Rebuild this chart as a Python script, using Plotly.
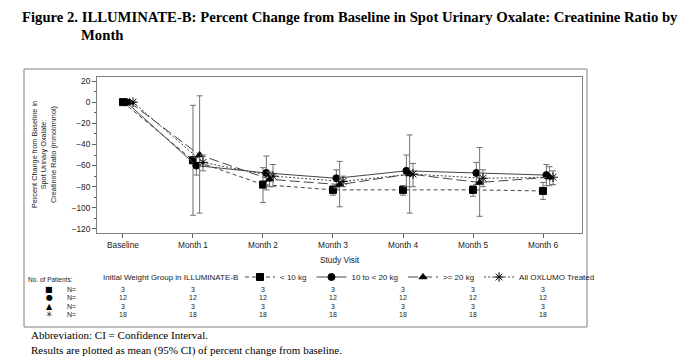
import plotly.graph_objects as go

# ---------------- data ----------------
visits = ["Baseline", "Month 1", "Month 2", "Month 3", "Month 4", "Month 5", "Month 6"]
group_names = ["< 10 kg", "10 to < 20 kg", ">= 20 kg", "All OXLUMO Treated"]

mean_lt10 = [0, -55, -78, -83, -83, -83, -84]
lo_lt10 = [None, -107, -95, -88, -88, -89, -92]
hi_lt10 = [None, -3, -62, -79, -79, -79, -76]

mean_10_20 = [0, -60, -67, -72, -65, -67, -69]
lo_10_20 = [None, -69, -83, -81, -80, -78, -79]
hi_10_20 = [None, -52, -51, -64, -50, -57, -59]

mean_ge20 = [0, -50, -73, -78, -68, -76, -71]
lo_ge20 = [None, -105, -80, -99, -105, -108, -79]
hi_ge20 = [None, 6, -66, -56, -31, -43, -61]

mean_all = [0, -57, -70, -75, -68, -72, -71]
lo_all = [None, -65, -80, -80, -80, -80, -78]
hi_all = [None, -50, -59, -70, -58, -64, -65]

n_lt10 = [3, 3, 3, 3, 3, 3, 3]
n_10_20 = [12, 12, 12, 12, 12, 12, 12]
n_ge20 = [3, 3, 3, 3, 3, 3, 3]
n_all = [18, 18, 18, 18, 18, 18, 18]

# ---------------- layout geometry (page pixels) ----------------
OFF = 8  # default page body margin
W, H = 692 - OFF, 358 - OFF
PL, PR, PT, PB = 97, 582, 77, 233   # plot area in page pixels
PW, PH = PR - PL, PB - PT


def px(xp):
    return (xp - PL) / PW


def py(yp):
    return (PB - yp) / PH


offsets = [0.0, 0.048, 0.095, 0.143]
symbols = ["square", "circle", "triangle-up", "asterisk-open"]
sizes = [7, 7, 7, 8]
dashes = ["4px,3px", "solid", "10px,4px", "2px,2px"]
means = [mean_lt10, mean_10_20, mean_ge20, mean_all]
los = [lo_lt10, lo_10_20, lo_ge20, lo_all]
his = [hi_lt10, hi_10_20, hi_ge20, hi_all]

fig = go.Figure()
for g in range(4):
    xs = [i + offsets[g] for i in range(len(visits))]
    m = means[g]
    plus = [None if h is None else h - v for h, v in zip(his[g], m)]
    minus = [None if l is None else v - l for l, v in zip(los[g], m)]
    fig.add_trace(go.Scatter(
        x=xs, y=m, mode="lines+markers", name=group_names[g],
        line=dict(color="#454545", width=1, dash=dashes[g]),
        marker=dict(symbol=symbols[g], size=sizes[g], color="black",
                    line=dict(color="black", width=1)),
        error_y=dict(type="data", symmetric=False, array=plus, arrayminus=minus,
                     color="#707070", thickness=1, width=3),
        hoverinfo="skip",
    ))

annotations = []
# Title
annotations.append(dict(xref="paper", yref="paper", x=px(20), y=py(17), xanchor="left", yanchor="middle",
                        text="<b>Figure 2. ILLUMINATE-B: Percent Change from Baseline in Spot Urinary Oxalate: Creatinine Ratio by</b>",
                        showarrow=False, font=dict(family="Liberation Serif", size=14.7, color="black")))
annotations.append(dict(xref="paper", yref="paper", x=px(79), y=py(35), xanchor="left", yanchor="middle",
                        text="<b>Month</b>", showarrow=False,
                        font=dict(family="Liberation Serif", size=14.7, color="black")))
# Y axis title
annotations.append(dict(xref="paper", yref="paper", x=px(44), y=0.5, xanchor="center", yanchor="middle",
                        textangle=-90, showarrow=False,
                        text="Percent Change from Baseline in<br>Spot Urinary Oxalate:<br>Creatinine Ratio (mmol/mmol)",
                        font=dict(family="Liberation Sans", size=7.3, color="#222")))
# X axis title
annotations.append(dict(xref="paper", yref="paper", x=0.5, y=py(260), xanchor="center", yanchor="middle",
                        text="Study Visit", showarrow=False,
                        font=dict(family="Liberation Sans", size=8.3, color="#222")))
# Legend title
annotations.append(dict(xref="paper", yref="paper", x=px(101), y=py(277), xanchor="left", yanchor="middle",
                        text="Initial Weight Group in ILLUMINATE-B", showarrow=False,
                        font=dict(family="Liberation Sans", size=8, color="#222")))
# N table
annotations.append(dict(xref="paper", yref="paper", x=px(26), y=py(279), xanchor="left", yanchor="middle",
                        text="No. of Patients:", showarrow=False,
                        font=dict(family="Liberation Sans", size=6.5, color="#222")))
row_y = [289, 297.5, 306, 314.5]
row_sym = ["■", "●", "▲", "✳"]
n_rows = [n_lt10, n_10_20, n_ge20, n_all]
for r in range(4):
    annotations.append(dict(xref="paper", yref="paper", x=px(49), y=py(row_y[r]), xanchor="center",
                            yanchor="middle", text=row_sym[r], showarrow=False,
                            font=dict(family="DejaVu Sans", size=8, color="black")))
    annotations.append(dict(xref="paper", yref="paper", x=px(65), y=py(row_y[r]), xanchor="left",
                            yanchor="middle", text="N=", showarrow=False,
                            font=dict(family="Liberation Sans", size=7, color="#222")))
    for i, n in enumerate(n_rows[r]):
        annotations.append(dict(xref="x", yref="paper", x=i, y=py(row_y[r]), xanchor="center",
                                yanchor="middle", text=str(n), showarrow=False,
                                font=dict(family="Liberation Sans", size=7, color="#222")))
# Footnotes
annotations.append(dict(xref="paper", yref="paper", x=px(29), y=py(335), xanchor="left", yanchor="middle",
                        text="Abbreviation: CI = Confidence Interval.", showarrow=False,
                        font=dict(family="Liberation Serif", size=11, color="black")))
annotations.append(dict(xref="paper", yref="paper", x=px(29), y=py(350), xanchor="left", yanchor="middle",
                        text="Results are plotted as mean (95% CI) of percent change from baseline.", showarrow=False,
                        font=dict(family="Liberation Serif", size=11, color="black")))

shapes = [dict(type="rect", xref="paper", yref="paper", x0=px(24), x1=px(587), y0=py(327), y1=py(69),
               line=dict(color="#808080", width=1), fillcolor="rgba(0,0,0,0)", layer="below")]

fig.update_layout(
    width=W, height=H,
    margin=dict(l=PL - OFF, r=W - (PR - OFF), t=PT - OFF, b=H - (PB - OFF)),
    paper_bgcolor="white", plot_bgcolor="white",
    font=dict(family="Liberation Sans", size=8, color="#222"),
    showlegend=True,
    legend=dict(orientation="h", x=px(240), y=py(277), xanchor="left", yanchor="middle",
                font=dict(family="Liberation Sans", size=8, color="#222"),
                itemwidth=30, bgcolor="rgba(0,0,0,0)", itemclick=False),
    xaxis=dict(range=[-0.371, 6.557], tickmode="array", tickvals=list(range(len(visits))),
               ticktext=visits, ticks="outside", ticklen=4, tickcolor="#606060",
               showline=True, linecolor="#808080", linewidth=1, mirror=True,
               showgrid=False, zeroline=False, tickfont=dict(size=8.3)),
    yaxis=dict(range=[-123.8, 23.8], tickmode="linear", tick0=0, dtick=20,
               ticks="outside", ticklen=4, tickcolor="#606060",
               minor=dict(ticks="outside", ticklen=2, dtick=10, tickcolor="#606060"),
               showline=True, linecolor="#808080", linewidth=1, mirror=True,
               showgrid=False, zeroline=False, tickfont=dict(size=8.3)),
    annotations=annotations,
    shapes=shapes,
)

fig.write_html("out.html")
